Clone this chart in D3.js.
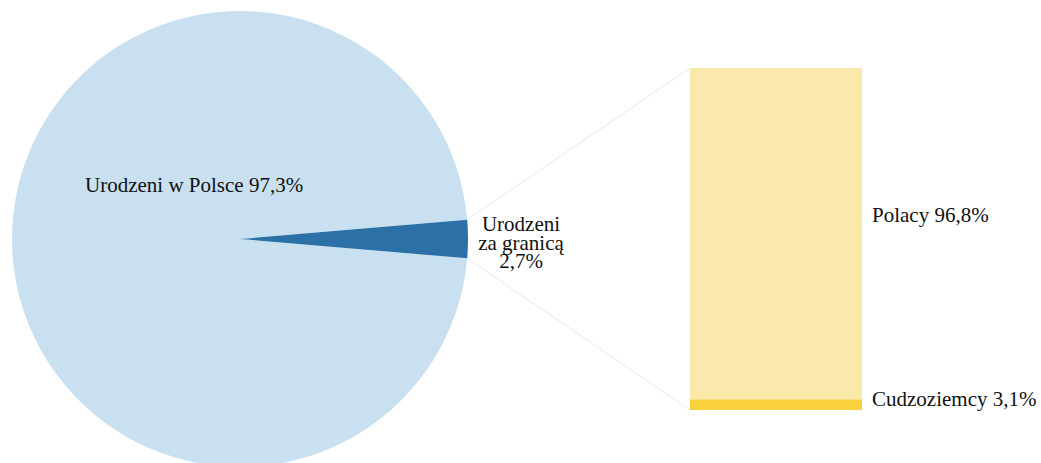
<!DOCTYPE html>
<html lang="en">
<head>
<meta charset="utf-8">
<title>Urodzeni w Polsce / za granicą</title>
<script src="https://cdn.jsdelivr.net/npm/d3@7"></script>
<style>
  body { margin: 0; background: #fff; }
</style>
</head>
<body>
<script>
var pieNames = ["Urodzeni w Polsce", "Urodzeni za granicą"];
var pieValues = [97.3, 2.7];
var barNames = ["Polacy", "Cudzoziemcy"];
var barValues = [96.8, 3.1];

var width = 1041, height = 463;
var cx = 240, cy = 239, radius = 228;
var barX = 690, barW = 172, barTop = 68, barBottom = 410;

var pieColors = ["#c9e0f0", "#2b71a8"];
var barColors = ["#fbe9ab", "#f8d13c"];
var font = "'Times New Roman', Times, 'Liberation Serif', 'DejaVu Serif', serif";

var svg = d3.select("body").append("svg")
  .attr("width", width)
  .attr("height", height)
  .attr("font-family", font)
  .attr("font-size", 21);

// rotate so the small slice faces the bar
var total = d3.sum(pieValues);
var start = Math.PI / 2 - (total - pieValues[1] / 2) / total * 2 * Math.PI;

var pie = d3.pie().sort(null)
  .startAngle(start)
  .endAngle(start + 2 * Math.PI);
var arcs = pie(pieValues);
var arc = d3.arc().innerRadius(0).outerRadius(radius);

var g = svg.append("g").attr("transform", "translate(" + cx + "," + cy + ")");
g.selectAll("path")
  .data(arcs)
  .enter().append("path")
  .attr("d", arc)
  .attr("fill", function(d, i) { return pieColors[i]; });

// stacked bar
var y = d3.scaleLinear()
  .domain([0, d3.sum(barValues)])
  .range([barBottom, barTop]);
var stack = [];
var acc = 0;
barValues.slice().reverse().forEach(function(v) { stack.push([acc, acc + v]); acc += v; });
stack.reverse();

svg.selectAll("rect.seg")
  .data(barValues)
  .enter().append("rect")
  .attr("class", "seg")
  .attr("x", barX)
  .attr("width", barW)
  .attr("y", function(d, i) { return y(stack[i][1]); })
  .attr("height", function(d, i) { return y(stack[i][0]) - y(stack[i][1]); })
  .attr("fill", function(d, i) { return barColors[i]; });

// connector lines from small slice edges to bar corners
var small = arcs[1];
var p1 = [cx + radius * Math.sin(small.startAngle), cy - radius * Math.cos(small.startAngle)];
var p2 = [cx + radius * Math.sin(small.endAngle), cy - radius * Math.cos(small.endAngle)];
svg.append("line")
  .attr("x1", p1[0]).attr("y1", p1[1])
  .attr("x2", barX).attr("y2", y(d3.sum(barValues)))
  .attr("stroke", "#e8e8e8").attr("stroke-width", 1);
svg.append("line")
  .attr("x1", p2[0]).attr("y1", p2[1])
  .attr("x2", barX).attr("y2", y(0))
  .attr("stroke", "#e8e8e8").attr("stroke-width", 1);

// pie labels
svg.append("text")
  .attr("x", 85).attr("y", 192)
  .attr("fill", "#111")
  .text(pieNames[0] + " " + pieValues[0].toString().replace(".", ",") + "%");

var lbl = svg.append("text")
  .attr("x", 521).attr("y", 231)
  .attr("text-anchor", "middle")
  .attr("fill", "#111");
lbl.append("tspan").attr("x", 521).attr("dy", 0).text("Urodzeni");
lbl.append("tspan").attr("x", 521).attr("dy", 19).text("za granicą");
lbl.append("tspan").attr("x", 521).attr("dy", 18).text(pieValues[1].toString().replace(".", ",") + "%");

// bar labels
var barLabelY = [222, 406];
svg.selectAll("text.bl")
  .data(barValues)
  .enter().append("text")
  .attr("class", "bl")
  .attr("x", barX + barW + 10)
  .attr("y", function(d, i) { return barLabelY[i]; })
  .attr("fill", "#111")
  .text(function(d, i) { return barNames[i] + " " + d.toString().replace(".", ",") + "%"; });
</script>
</body>
</html>
